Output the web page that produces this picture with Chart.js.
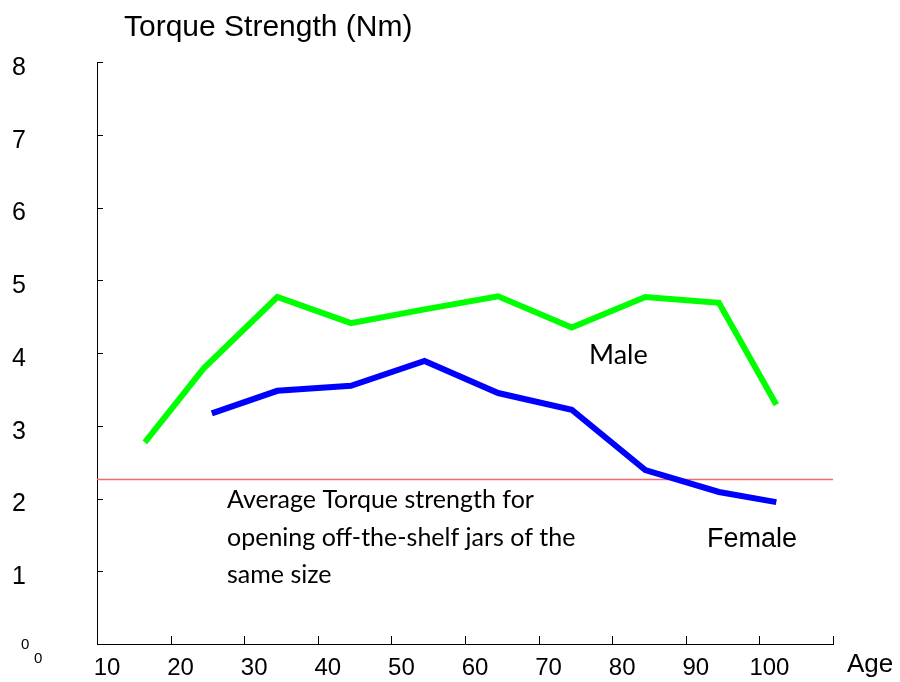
<!DOCTYPE html>
<html>
<head>
<meta charset="utf-8">
<script src="https://cdn.jsdelivr.net/npm/chart.js@4"></script>
<style>
  html, body { margin: 0; padding: 0; background: #fff; }
  #wrap { width: 900px; height: 682px; }
</style>
</head>
<body>
<div id="wrap"><canvas id="grafica"></canvas></div>
<script>
// data
var maleAge = [16.5, 24.5, 34.5, 44.5, 54.5, 64.5, 74.5, 84.5, 94.5, 102.3];
var maleTorque = [2.77, 3.79, 4.77, 4.41, 4.60, 4.78, 4.35, 4.77, 4.69, 3.29];
var femaleAge = [25.6, 34.5, 44.5, 54.5, 64.5, 74.5, 84.5, 94.5, 102.3];
var femaleTorque = [3.17, 3.48, 3.55, 3.89, 3.45, 3.22, 2.39, 2.09, 1.95];
var jarAge = [10, 110];
var jarTorque = [2.26, 2.26];
var xTicks = [20, 30, 40, 50, 60, 70, 80, 90, 100, 110];
var yTicks = [1, 2, 3, 4, 5, 6, 7, 8];

function puntos(xs, ys) {
    return xs.map(function (v, i) { return {x: v, y: ys[i]}; });
}

var extras = {
    id: 'extras',
    afterDraw: function (chart) {
        var ctx = chart.ctx;
        var sx = chart.scales.x, sy = chart.scales.y;
        ctx.save();
        // inside tick marks
        ctx.strokeStyle = '#000';
        ctx.lineWidth = 1;
        ctx.beginPath();
        yTicks.forEach(function (v) {
            var py = Math.round(sy.getPixelForValue(v)) + 0.5;
            ctx.moveTo(sx.left, py);
            ctx.lineTo(sx.left + 6, py);
        });
        xTicks.forEach(function (v) {
            var px = Math.round(sx.getPixelForValue(v)) + 0.5;
            ctx.moveTo(px, sy.bottom);
            ctx.lineTo(px, sy.bottom - 8);
        });
        ctx.stroke();

        ctx.fillStyle = '#000';
        ctx.textBaseline = 'middle';
        ctx.textAlign = 'left';
        ctx.font = '30px "Liberation Sans", Arial';
        ctx.fillText('Torque Strength (Nm)', 124, 28);
        ctx.font = '26px "Liberation Sans", Arial';
        ctx.fillText('Age', 847, 665);
        ctx.font = '27px "Liberation Sans", Arial';
        ctx.fillText('Female', 707, 540);
        ctx.font = '15px "Liberation Sans", Arial';
        ctx.fillText('0', 21, 645);
        ctx.fillText('0', 34, 659);
        ctx.font = '27px Lato';
        ctx.fillText('Male', 589, 355);
        ctx.font = '25px Lato';
        ctx.fillText('Average Torque strength for', 227, 500);
        ctx.fillText('opening off-the-shelf jars of the', 227, 538);
        ctx.fillText('same size', 227, 575);
        ctx.restore();
    }
};

var config = {
    type: 'line',
    data: {
        datasets: [{
            label: 'Male',
            data: puntos(maleAge, maleTorque),
            borderColor: '#00ff00',
            borderWidth: 6,
            borderJoinStyle: 'miter',
            pointRadius: 0,
            tension: 0
        }, {
            label: 'Female',
            data: puntos(femaleAge, femaleTorque),
            borderColor: '#0000ff',
            borderWidth: 6,
            borderJoinStyle: 'miter',
            pointRadius: 0,
            tension: 0
        }, {
            label: 'Average jar',
            data: puntos(jarAge, jarTorque),
            borderColor: '#f26b6b',
            borderWidth: 1.5,
            pointRadius: 0
        }]
    },
    options: {
        responsive: true,
        maintainAspectRatio: false,
        animation: false,
        layout: {
            padding: {top: 62, right: 67, left: 12, bottom: 0}
        },
        scales: {
            x: {
                type: 'linear',
                min: 10,
                max: 110,
                grid: {display: false, drawTicks: false},
                border: {display: true, color: '#000', width: 1},
                afterFit: function (scale) { scale.height = 38; },
                ticks: {
                    stepSize: 10,
                    autoSkip: false,
                    maxRotation: 0,
                    padding: 10,
                    labelOffset: 10,
                    color: '#000',
                    font: {family: '"Liberation Sans", Arial', size: 24},
                    callback: function (v) { return v === 110 ? '' : v; }
                }
            },
            y: {
                min: 0,
                max: 8,
                grid: {display: false, drawTicks: false},
                border: {display: true, color: '#000', width: 1},
                afterFit: function (scale) { scale.width = 85; },
                ticks: {
                    stepSize: 1,
                    padding: 0,
                    crossAlign: 'far',
                    labelOffset: 6,
                    color: '#000',
                    font: {family: '"Liberation Sans", Arial', size: 25},
                    callback: function (v) { return v === 0 ? '' : v; }
                }
            }
        },
        plugins: {
            legend: {display: false},
            tooltip: {enabled: false},
            title: {display: false}
        }
    },
    plugins: [extras]
};

var myChart = new Chart(document.getElementById('grafica'), config);
</script>
</body>
</html>
